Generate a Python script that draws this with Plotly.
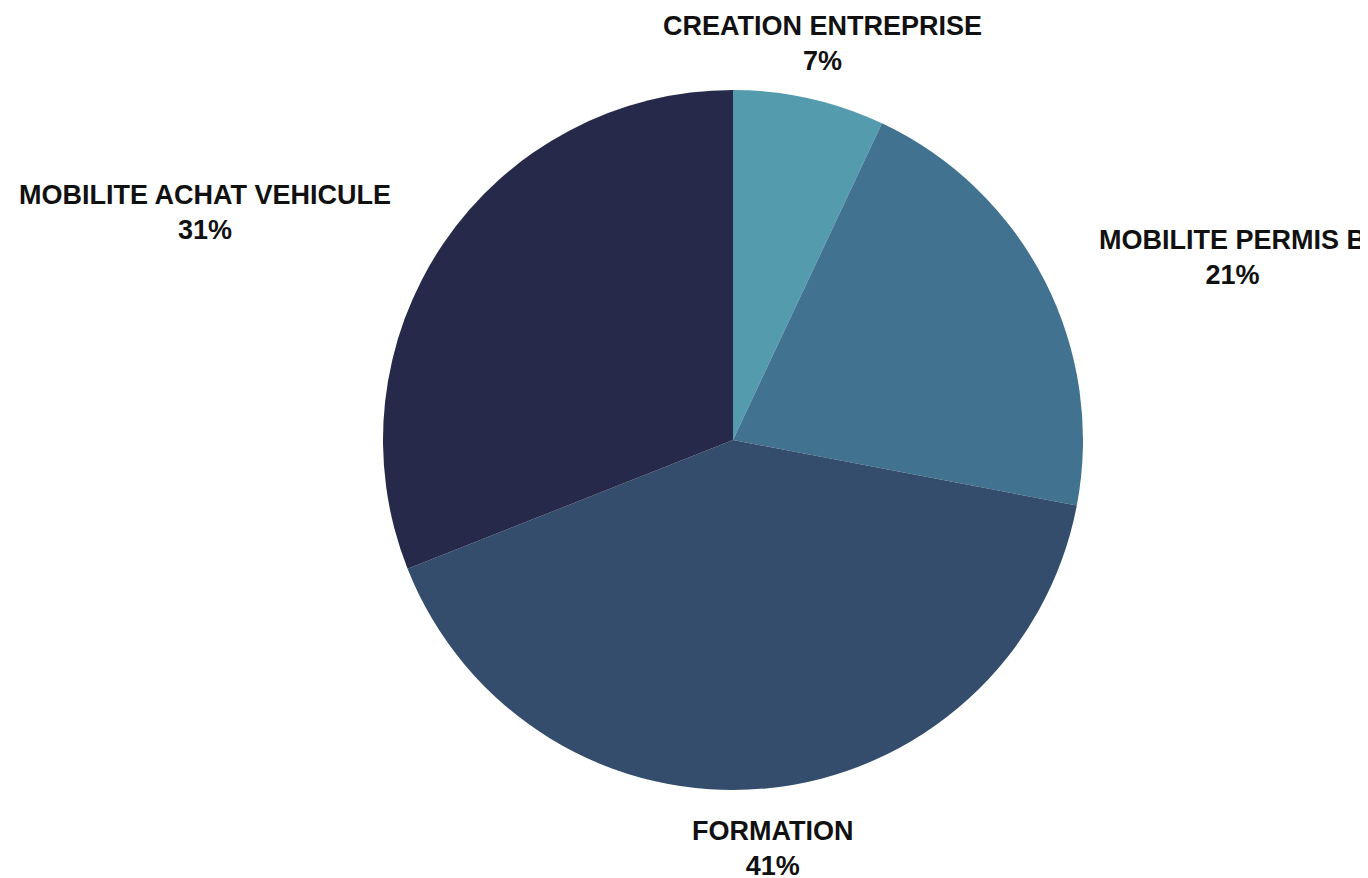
import plotly.graph_objects as go

categories = ["CREATION ENTREPRISE", "MOBILITE PERMIS B", "FORMATION", "MOBILITE ACHAT VEHICULE"]
values = [7, 21, 41, 31]
colors = ["#559BAE", "#41728F", "#344D6D", "#262949"]

W, H = 1368, 878
OFF = 8  # page body margin
# label anchor centres (screen pixels) for each category
label_pos = {
    "CREATION ENTREPRISE": (822, 44),
    "MOBILITE PERMIS B": (1232, 257),
    "FORMATION": (772, 848),
    "MOBILITE ACHAT VEHICULE": (205, 213),
}

def px_x(x):
    return (x - OFF) / W

def px_y(y):
    return 1 - (y - OFF) / H

fig = go.Figure(go.Pie(
    labels=categories,
    values=values,
    marker=dict(colors=colors, line=dict(width=0)),
    sort=False,
    direction="clockwise",
    rotation=0,
    textinfo="none",
    hoverinfo="label+percent",
    showlegend=False,
    domain=dict(x=[px_x(383), px_x(1083)], y=[px_y(790), px_y(90)]),
))

total = sum(values)
annotations = []
for cat, v in zip(categories, values):
    lx, ly = label_pos[cat]
    annotations.append(dict(
        text=f"<b>{cat}</b><br><b>{round(100 * v / total)}%</b>",
        x=px_x(lx), y=px_y(ly), xref="paper", yref="paper",
        xanchor="center", yanchor="middle", showarrow=False,
        font=dict(family="Liberation Sans, Arial, sans-serif", size=27, color="#111111"),
        align="center",
    ))

fig.update_layout(
    width=W, height=H,
    margin=dict(l=0, r=0, t=0, b=0),
    paper_bgcolor="white",
    plot_bgcolor="white",
    annotations=annotations,
)

fig.write_html("out.html")
